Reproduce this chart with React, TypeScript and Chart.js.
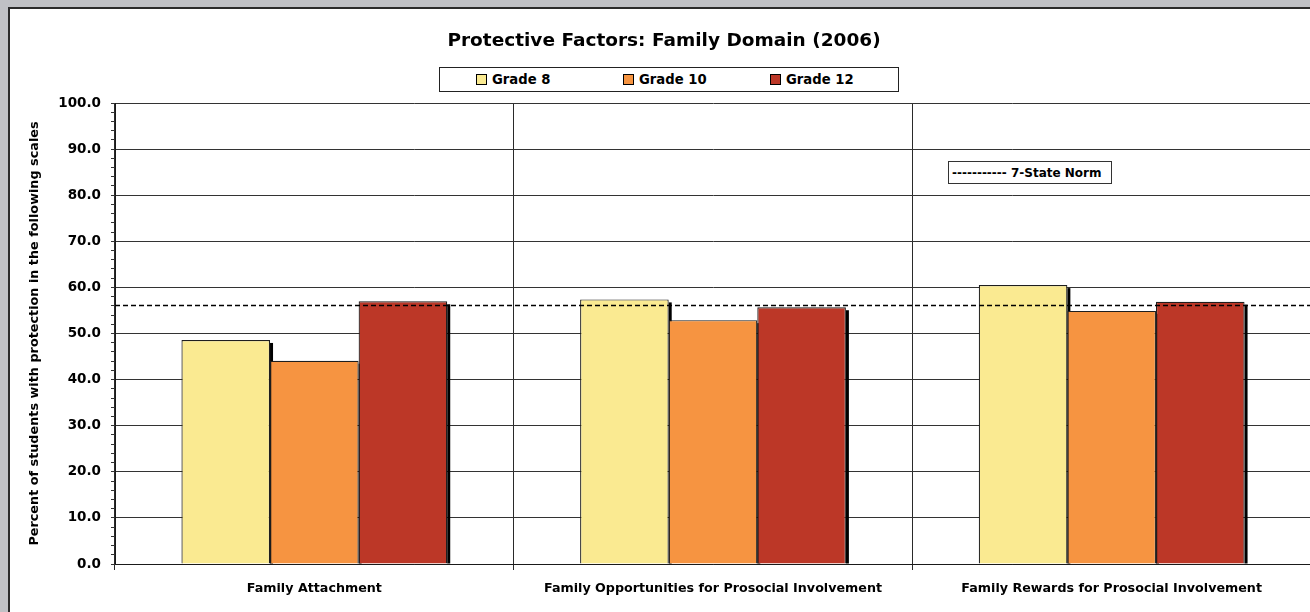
import React, { useEffect, useRef } from 'react';
import { Chart, registerables } from 'chart.js';

Chart.register(...registerables);

const FONT = '"DejaVu Sans", "Liberation Sans", sans-serif';

const chartTitle = 'Protective Factors: Family Domain (2006)';
const yAxisTitle = 'Percent of students with protection in the following scales';
const categories = [
  'Family Attachment',
  'Family Opportunities for Prosocial Involvement',
  'Family Rewards for Prosocial Involvement',
];
const seriesNames = ['Grade 8', 'Grade 10', 'Grade 12'];
const grade8 = [48.6, 57.4, 60.5];
const grade10 = [44.1, 52.9, 54.9];
const grade12 = [57.0, 55.7, 56.9];
const normLabel = '----------- 7-State Norm';
const normValue = 56.2;
const seriesColors = ['#FAEA91', '#F69441', '#BC3727'];

const shadowPlugin = {
  id: 'barShadow',
  beforeDatasetsDraw(chart: any) {
    const ctx = chart.ctx;
    ctx.save();
    ctx.fillStyle = '#000';
    chart.data.datasets.forEach((_: any, i: number) => {
      const meta = chart.getDatasetMeta(i);
      meta.data.forEach((bar: any) => {
        const p = bar.getProps(['x', 'y', 'base', 'width'], true);
        ctx.fillRect(p.x + p.width / 2, p.y + 3, 3, p.base - p.y - 3);
      });
    });
    ctx.restore();
  },
};

const normPlugin = {
  id: 'normLine',
  afterDatasetsDraw(chart: any) {
    const ctx = chart.ctx;
    const y = Math.round(chart.scales.y.getPixelForValue(normValue)) + 0.5;
    const { left, right } = chart.chartArea;
    ctx.save();
    ctx.strokeStyle = '#000';
    ctx.lineWidth = 1.5;
    ctx.setLineDash([5, 3]);
    ctx.beginPath();
    ctx.moveTo(left, y);
    ctx.lineTo(right, y);
    ctx.stroke();
    ctx.restore();
  },
};

export default function App() {
  const ref = useRef<HTMLCanvasElement>(null);

  useEffect(() => {
    document.body.style.margin = '0';
    const seriesValues = [grade8, grade10, grade12];
    const chart = new Chart(ref.current as HTMLCanvasElement, {
      type: 'bar',
      data: {
        labels: categories,
        datasets: seriesNames.map((name, i) => ({
          label: name,
          data: seriesValues[i],
          backgroundColor: seriesColors[i],
          borderColor: '#1e1e1e',
          borderWidth: 1.2,
          categoryPercentage: 0.6667,
          barPercentage: 1,
        })),
      },
      options: {
        animation: false,
        responsive: false,
        devicePixelRatio: 1,
        layout: { padding: { left: 0, top: 103, right: 19, bottom: 0 } },
        plugins: {
          legend: { display: false },
          title: { display: false },
          tooltip: { enabled: false },
        },
        scales: {
          x: {
            offset: true,
            grid: { offset: true, color: '#2a2a2a', lineWidth: 1, tickLength: 6, tickColor: '#2a2a2a' },
            border: { color: '#1a1a1a', width: 1 },
            ticks: {
              color: '#000',
              font: { family: FONT, size: 12.7, weight: 'bold' },
              padding: 11,
              maxRotation: 0,
              autoSkip: false,
            },
            afterFit: (s: any) => {
              s.height = 48;
            },
          },
          y: {
            min: 0,
            max: 100,
            grid: {
              color: (c: any) => (Math.round(c.tick.value) % 10 === 0 ? '#333' : 'rgba(0,0,0,0)'),
              lineWidth: 1,
              tickLength: 4,
              tickColor: '#333',
            },
            border: { color: '#1a1a1a', width: 1 },
            ticks: {
              stepSize: 2,
              autoSkip: false,
              color: '#000',
              padding: 10,
              font: { family: FONT, size: 13.5, weight: 'bold' },
              callback: (v: any) => (Math.round(Number(v)) % 10 === 0 ? Number(v).toFixed(1) : ''),
            },
            title: {
              display: true,
              text: yAxisTitle,
              color: '#000',
              font: { family: FONT, size: 12.8, weight: 'bold' },
              padding: { top: 27, bottom: 0 },
            },
            afterFit: (s: any) => {
              s.width = 115;
            },
          },
        },
      } as any,
      plugins: [shadowPlugin, normPlugin],
    });
    return () => chart.destroy();
  }, []);

  const legendX = [476, 623, 770];

  return (
    <div
      style={{
        position: 'fixed',
        left: 0,
        top: 0,
        width: 1310,
        height: 612,
        overflow: 'hidden',
        background: '#C0C1C5',
        fontFamily: FONT,
      }}
    >
      <div
        style={{
          position: 'absolute',
          left: 8,
          top: 7,
          width: 1340,
          height: 640,
          background: '#fff',
          borderTop: '2px solid #2b2b2b',
          borderLeft: '2px solid #2b2b2b',
        }}
      />
      <canvas
        ref={ref}
        width={1330}
        height={612}
        style={{ position: 'absolute', left: 0, top: 0, width: 1330, height: 612 }}
      />
      <div
        style={{
          position: 'absolute',
          left: 0,
          top: 29,
          width: 1328,
          textAlign: 'center',
          fontSize: 18.5,
          lineHeight: '22px',
          fontWeight: 'bold',
          color: '#000',
          whiteSpace: 'nowrap',
        }}
      >
        {chartTitle}
      </div>
      <div
        style={{
          position: 'absolute',
          left: 439,
          top: 67,
          width: 458,
          height: 23,
          border: '1px solid #222',
          background: '#fff',
        }}
      />
      {seriesNames.map((name, i) => (
        <div
          key={name}
          style={{
            position: 'absolute',
            left: legendX[i],
            top: 68,
            height: 23,
            display: 'flex',
            alignItems: 'center',
            gap: 5,
            fontSize: 13.2,
            fontWeight: 'bold',
            color: '#000',
            whiteSpace: 'nowrap',
          }}
        >
          <span
            style={{
              display: 'inline-block',
              width: 9,
              height: 9,
              background: seriesColors[i],
              border: '1px solid #000',
            }}
          />
          <span>{name}</span>
        </div>
      ))}
      <div
        style={{
          position: 'absolute',
          left: 948,
          top: 161,
          width: 159,
          height: 21,
          border: '1px solid #333',
          background: '#fff',
          display: 'flex',
          alignItems: 'center',
          paddingLeft: 3,
          boxSizing: 'content-box',
          fontSize: 12,
          fontWeight: 'bold',
          color: '#000',
          whiteSpace: 'nowrap',
        }}
      >
        {normLabel}
      </div>
    </div>
  );
}
